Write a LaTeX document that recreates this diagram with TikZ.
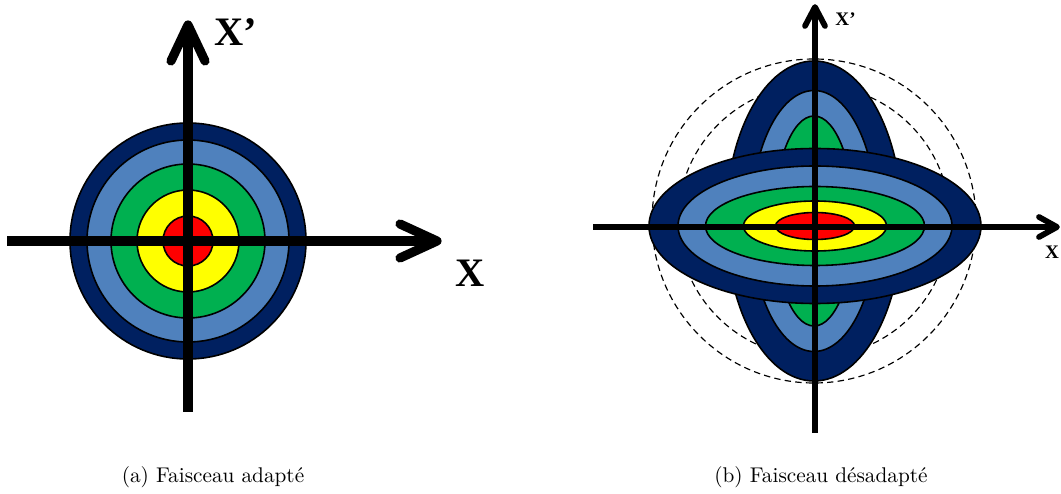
\documentclass[tikz,border=0pt]{standalone}
\usepackage{fontspec}
\newfontfamily\lblfont{Liberation Serif}
\definecolor{dblue}{HTML}{002060}
\definecolor{lblue}{HTML}{4F81BD}
\definecolor{bgreen}{HTML}{00B050}
\definecolor{byellow}{HTML}{FFFF00}
\definecolor{bred}{HTML}{FF0000}
\begin{document}
\begin{tikzpicture}[x=0.47pt,y=0.47pt,
  ring/.style={draw=black,line width=0.75pt},
  bigaxis/.style={line width=4.3pt},
  bigtip/.style={line width=4.3pt,line cap=round,line join=round},
  smallaxis/.style={line width=2.7pt},
  smalltip/.style={line width=2.7pt,line cap=round,line join=round},
  dashcirc/.style={dashed,dash pattern=on 3pt off 2pt,line width=0.55pt},
  biglbl/.style={font=\lblfont\bfseries\fontsize{19}{19}\selectfont,inner sep=0pt},
  smalllbl/.style={font=\lblfont\bfseries\fontsize{9}{9}\selectfont,inner sep=0pt},
  captxt/.style={font=\normalsize,inner sep=0pt,anchor=base}]
\useasboundingbox (0,0) rectangle (1061,-494);
% ---------- (a) ----------
\coordinate (ca) at (188,-241);
\fill[dblue,ring] (ca) circle (118);
\fill[lblue,ring] (ca) circle (101);
\fill[bgreen,ring] (ca) circle (77);
\fill[byellow,ring] (ca) circle (51);
\fill[bred,ring] (ca) circle (25);
\coordinate (ha0) at (7,-241);
\coordinate (ha1) at (437,-241);
\coordinate (haU) at (400,-224);
\coordinate (haD) at (400,-258);
\coordinate (va0) at (188,-412);
\coordinate (va1) at (188,-25);
\coordinate (vaL) at (171,-61);
\coordinate (vaR) at (205,-61);
\draw[bigaxis] (ha0) -- (ha1);
\draw[bigtip] (haU) -- (ha1) -- (haD);
\draw[bigaxis] (va0) -- (va1);
\draw[bigtip] (vaL) -- (va1) -- (vaR);
\node[biglbl,anchor=west] (xpa) at (214,-32) {X’};
\node[biglbl] (xa) at (470,-273) {X};
\node[captxt] (capa) at (213,-483) {(a) Faisceau adapté};
% ---------- (b) ----------
\coordinate (cbh) at (815,-226);
\coordinate (cbv) at (814,-221);
\draw[dashcirc] (cbv) circle (162);
\draw[dashcirc] (cbv) circle (136);
\fill[dblue,ring] (cbv) ellipse [x radius=88,y radius=160];
\fill[lblue,ring] (cbv) ellipse [x radius=63,y radius=130.5];
\fill[bgreen,ring] (cbv) ellipse [x radius=40,y radius=105];
\fill[dblue,ring] (cbh) ellipse [x radius=166,y radius=77.5];
\fill[lblue,ring] (cbh) ellipse [x radius=137,y radius=60];
\fill[bgreen,ring] (cbh) ellipse [x radius=109.5,y radius=39.5];
\fill[byellow,ring] (cbh) ellipse [x radius=71.5,y radius=25];
\fill[bred,ring] (cbh) ellipse [x radius=39.5,y radius=13.5];
\coordinate (hb0) at (593,-227);
\coordinate (hb1) at (1057,-227);
\coordinate (hbU) at (1039,-217);
\coordinate (hbD) at (1039,-237);
\coordinate (vb0) at (815,-433);
\coordinate (vb1) at (815,-7);
\coordinate (vbL) at (805,-26);
\coordinate (vbR) at (825,-26);
\draw[smallaxis] (hb0) -- (hb1);
\draw[smalltip] (hbU) -- (hb1) -- (hbD);
\draw[smallaxis] (vb0) -- (vb1);
\draw[smalltip] (vbL) -- (vb1) -- (vbR);
\node[smalllbl,anchor=west] (xpb) at (835,-19) {X’};
\node[smalllbl] (xb) at (1052,-252) {X};
\node[captxt] (capb) at (821,-483) {(b) Faisceau désadapté};
\end{tikzpicture}
\end{document}
